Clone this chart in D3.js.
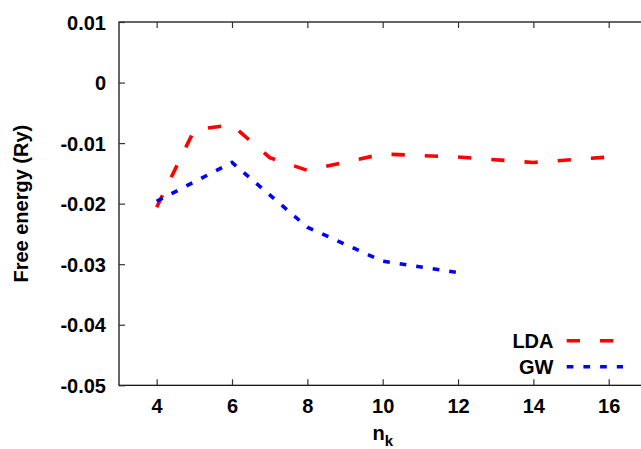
<!DOCTYPE html>
<html>
<head>
<meta charset="utf-8">
<script src="https://cdn.jsdelivr.net/npm/d3@7"></script>
<style>
  html, body { margin: 0; padding: 0; background: #fff; }
  svg { display: block; }
  text { font-family: "Liberation Sans", Arial, Helvetica, sans-serif; font-weight: bold; fill: #000; }
</style>
</head>
<body>
<svg id="chart" width="641" height="449"></svg>
<script>
// Free energy convergence versus k-point grid size
const ldaK = [4, 5, 6, 7, 8, 10, 12, 14, 16];
const ldaF = [-0.0206, -0.0078, -0.0070, -0.0124, -0.0145, -0.0118, -0.0123, -0.0132, -0.0123];
const gwK = [4, 6, 8, 10, 12];
const gwF = [-0.0196, -0.0132, -0.0239, -0.0295, -0.0314];

const xTicks = [4, 6, 8, 10, 12, 14, 16];
const yTicks = [0.01, 0, -0.01, -0.02, -0.03, -0.04, -0.05];
const yTickLabels = ["0.01", "0", "-0.01", "-0.02", "-0.03", "-0.04", "-0.05"];

const svg = d3.select("#chart");
const plotLeft = 119, plotTop = 22, plotBottom = 385.3, unit = 37.67;

const x = d3.scaleLinear().domain([3, 17]).range([plotLeft, plotLeft + 14 * unit]);
const y = d3.scaleLinear().domain([-0.05, 0.01]).range([plotBottom, plotTop]);

// frame
svg.append("rect")
  .attr("x", x(3)).attr("y", y(0.01))
  .attr("width", x(17) - x(3)).attr("height", y(-0.05) - y(0.01))
  .attr("fill", "none").attr("stroke", "#000").attr("stroke-width", 1.2);

// bottom axis ticks (inward) and labels
const xb = svg.append("g").attr("transform", `translate(0,${plotBottom})`)
  .call(d3.axisBottom(x).tickValues(xTicks).tickSizeInner(-6).tickSizeOuter(0).tickPadding(18));
xb.select(".domain").remove();
xb.selectAll(".tick line").attr("stroke", "#333").attr("stroke-width", 1.2);
xb.selectAll(".tick text").attr("font-size", 20).attr("fill", "#000")
  .attr("dy", null).attr("y", 28);

// top mirror ticks
const xt = svg.append("g").attr("transform", `translate(0,${plotTop})`)
  .call(d3.axisTop(x).tickValues(xTicks).tickSizeInner(-6).tickSizeOuter(0).tickFormat(""));
xt.select(".domain").remove();
xt.selectAll(".tick line").attr("stroke", "#333").attr("stroke-width", 1.2);

// left axis ticks and labels
const yl = svg.append("g").attr("transform", `translate(${plotLeft},0)`)
  .call(d3.axisLeft(y).tickValues(yTicks).tickSizeInner(-6).tickSizeOuter(0).tickPadding(13)
    .tickFormat((d, i) => yTickLabels[i]));
yl.select(".domain").remove();
yl.selectAll(".tick line").attr("stroke", "#333").attr("stroke-width", 1.2);
yl.selectAll(".tick text").attr("font-size", 20).attr("fill", "#000").attr("dy", "0.35em");

// axis titles
svg.append("text")
  .attr("transform", `translate(28,${(plotTop + plotBottom) / 2}) rotate(-90)`)
  .attr("text-anchor", "middle").attr("font-size", 20)
  .text("Free energy (Ry)");

const xl = svg.append("text")
  .attr("x", x(10)).attr("y", 440).attr("text-anchor", "middle").attr("font-size", 20);
xl.append("tspan").text("n");
xl.append("tspan").attr("font-size", 15).attr("dy", 6).text("k");

// series
const line = d3.line().x(d => x(d[0])).y(d => y(d[1]));
const ldaPts = ldaK.map((k, i) => [k, ldaF[i]]);
const gwPts = gwK.map((k, i) => [k, gwF[i]]);

const plot = svg.append("g");
plot.append("path").datum(ldaPts).attr("d", line)
  .attr("fill", "none").attr("stroke", "#ff0000").attr("stroke-width", 3.6)
  .attr("stroke-dasharray", "13.3,20");
plot.append("path").datum(gwPts).attr("d", line)
  .attr("fill", "none").attr("stroke", "#0000ff").attr("stroke-width", 3.6)
  .attr("stroke-dasharray", "6.7,10");

// legend
const legend = [
  { name: "LDA", color: "#ff0000", dash: "13.3,20", cy: 340.7 },
  { name: "GW", color: "#0000ff", dash: "6.7,10", cy: 366.7 }
];
const lg = svg.append("g").selectAll("g").data(legend).join("g");
lg.append("text")
  .attr("x", 553.5).attr("y", d => d.cy).attr("dy", "0.35em")
  .attr("text-anchor", "end").attr("font-size", 20)
  .text(d => d.name);
lg.append("line")
  .attr("x1", 566.7).attr("x2", 623).attr("y1", d => d.cy).attr("y2", d => d.cy)
  .attr("stroke", d => d.color).attr("stroke-width", 3.6)
  .attr("stroke-dasharray", d => d.dash);
</script>
</body>
</html>
